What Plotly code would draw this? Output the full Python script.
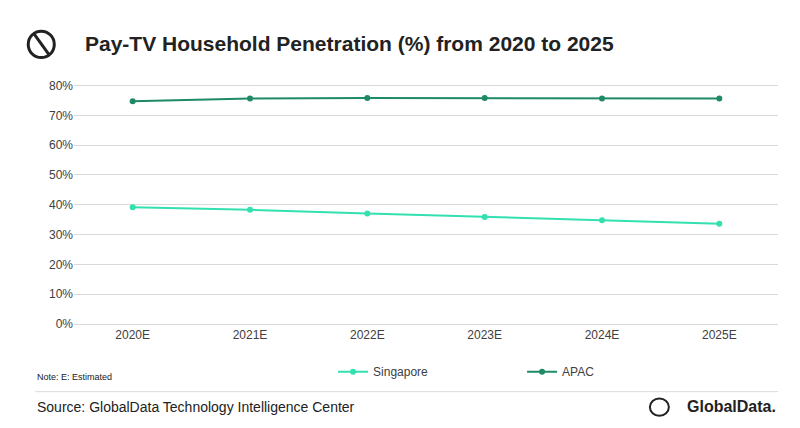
import plotly.graph_objects as go

years = ["2020E", "2021E", "2022E", "2023E", "2024E", "2025E"]
singapore = [39.2, 38.3, 37.1, 35.9, 34.8, 33.6]
apac = [74.7, 75.6, 75.8, 75.8, 75.6, 75.6]
yticks = [0, 10, 20, 30, 40, 50, 60, 70, 80]

fig = go.Figure()
fig.add_trace(go.Scatter(x=years, y=singapore, name="Singapore", mode="lines+markers",
                         line=dict(color="#33e0b0", width=2), marker=dict(size=6)))
fig.add_trace(go.Scatter(x=years, y=apac, name="APAC", mode="lines+markers",
                         line=dict(color="#1f8a68", width=2), marker=dict(size=6)))
fig.update_layout(
    width=800, height=428, paper_bgcolor="white", plot_bgcolor="white",
    margin=dict(l=66, r=30, t=76, b=112, autoexpand=False),
    font=dict(family="Liberation Sans, Arial", color="#404040", size=12),
    xaxis=dict(showline=True, linecolor="#d9d9d9", ticks="", tickfont=dict(size=12),
               range=[-0.5, 5.5]),
    yaxis=dict(range=[0, 80.5], tickvals=yticks, ticktext=[f"{v}%" for v in yticks],
               gridcolor="#d9d9d9", zeroline=False, tickfont=dict(size=12)),
    legend=dict(orientation="h", x=0.368, xanchor="left", y=0.15, yanchor="middle",
                yref="container", font=dict(size=12), entrywidth=144),
    showlegend=True,
)
fig.add_annotation(text="<b>Pay-TV Household Penetration (%) from 2020 to 2025</b>",
                   xref="paper", yref="paper", x=0.013, y=1.168, xanchor="left", yanchor="middle",
                   showarrow=False, font=dict(size=21, color="#222222"))
fig.add_annotation(text="Note: E: Estimated", xref="paper", yref="paper", x=-0.055, y=-0.22,
                   xanchor="left", yanchor="middle", showarrow=False, font=dict(size=9, color="#222222"))
fig.add_annotation(text="Source: GlobalData Technology Intelligence Center", xref="paper", yref="paper",
                   x=-0.055, y=-0.345, xanchor="left", yanchor="middle", showarrow=False,
                   font=dict(size=14, color="#222222"))
fig.add_annotation(text="<b>GlobalData.</b>", xref="paper", yref="paper", x=1.0, y=-0.345,
                   xanchor="right", yanchor="middle", showarrow=False, font=dict(size=16, color="#222222"))
# logos
fig.add_shape(type="circle", xref="paper", yref="paper", x0=-0.065, x1=-0.028, y0=1.11, y1=1.22,
              line=dict(color="#222222", width=3))
fig.add_shape(type="line", xref="paper", yref="paper", x0=-0.057, x1=-0.035, y0=1.21, y1=1.12,
              line=dict(color="#222222", width=3))
fig.add_shape(type="circle", xref="paper", yref="paper", x0=0.818, x1=0.845, y0=-0.382, y1=-0.31,
              line=dict(color="#222222", width=2))
fig.add_shape(type="line", xref="paper", yref="paper", x0=-0.055, x1=1.0, y0=-0.282, y1=-0.282,
              line=dict(color="#d9d9d9", width=1))
fig.write_html("out.html")
